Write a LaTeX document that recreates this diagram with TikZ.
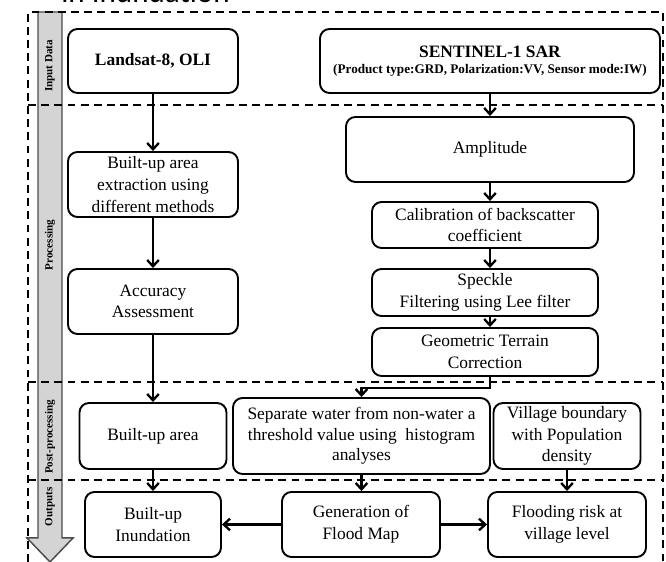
\documentclass[tikz,border=0pt]{standalone}
\usepackage{fontspec}
\setmainfont{Liberation Serif}
\newfontfamily\capfont{Carlito}
\usetikzlibrary{arrows.meta}

\tikzset{
  stage/.style={draw, line width=1.8pt, rounded corners=9pt, align=center,
    inner sep=0pt, font=\fontsize{16.5}{20.5}\selectfont},
  flow/.style={-{Straight Barb[length=6pt,width=11pt]}, line width=2.2pt},
  divider/.style={line width=2pt, dash pattern=on 7.5pt off 5pt},
  phase/.style={rotate=90, font=\bfseries\fontsize{10.5}{12}\selectfont},
}

\begin{document}
\begin{tikzpicture}

\useasboundingbox (0,0) rectangle (22.2,18.733);

\node [anchor=base, font=\capfont\fontsize{29.5}{30}\selectfont] (heading) at (4.85,18.655) {in Inundation};

\draw [line width=1.4pt, draw=black!70, fill=black!17] (1.267,18.333) -- (2.067,18.333) -- (2.067,0.8) -- (2.433,0.8) -- (1.667,0) -- (0.9,0.8) -- (1.267,0.8) -- cycle;

\draw [divider] (0.933,0) -- (0.933,18.333) -- (22.1,18.333) -- (22.1,0);
\draw [divider] (0.933,15.233) -- (22.1,15.233);
\draw [divider] (0.933,6.0) -- (22.1,6.0);
\draw [divider] (0.933,2.733) -- (22.1,2.733);

\node [phase] (inputlbl) at (1.667,16.533) {Input Data};
\node [phase] (proclbl) at (1.667,10.567) {Processing};
\node [phase] (postlbl) at (1.667,4.167) {Post-processing};
\node [phase] (outlbl) at (1.667,1.833) {Outputs};

\node [stage, font=\bfseries\fontsize{16.5}{20}\selectfont, minimum width=5.667cm, minimum height=2.133cm] (landsat) at (5.1,16.7) {Landsat-8, OLI};
\node [stage, font=\bfseries\fontsize{12.5}{15}\selectfont, minimum width=11.333cm, minimum height=2.133cm] (sentinel) at (16.333,16.7) {{\fontsize{16.5}{15}\selectfont SENTINEL-1 SAR}\\(Product type:GRD, Polarization:VV, Sensor mode:IW)};

\node [stage, minimum width=5.667cm, minimum height=2.167cm] (extract) at (5.1,12.583) {Built-up area\\extraction using\\different methods};
\node [stage, minimum width=5.667cm, minimum height=2.167cm] (accuracy) at (5.1,8.683) {Accuracy\\Assessment};

\node [stage, minimum width=9.6cm, minimum height=2.167cm] (amplitude) at (16.333,13.75) {Amplitude};
\node [stage, minimum width=7.533cm, minimum height=1.533cm] (calib) at (16.167,11.233) {Calibration of backscatter\\coefficient};
\node [stage, minimum width=7.533cm, minimum height=1.567cm] (speckle) at (16.167,8.983) {Speckle\\Filtering using Lee filter};
\node [stage, minimum width=7.533cm, minimum height=1.6cm] (geometric) at (16.167,7.0) {Geometric Terrain\\Correction};

\node [stage, minimum width=4.9cm, minimum height=2.2cm] (builtup) at (5.1,4.2) {Built-up area};
\node [stage, font=\fontsize{16.5}{19.5}\selectfont, minimum width=8.567cm, minimum height=2.533cm] (separate) at (12.05,4.2) {Separate water from non-water a\\threshold value using\ \ histogram\\analyses};
\node [stage, minimum width=4.9cm, minimum height=2.2cm] (village) at (18.9,4.2) {Village boundary\\with Population\\density};

\node [stage, minimum width=4.533cm, minimum height=2.167cm] (inundation) at (5.1,1.25) {Built-up\\Inundation};
\node [stage, minimum width=5.267cm, minimum height=2.167cm] (generation) at (12.033,1.25) {Generation of\\Flood Map};
\node [stage, minimum width=5.267cm, minimum height=2.167cm] (flooding) at (18.9,1.25) {Flooding risk at\\village level};

\draw [flow] (landsat) -- (extract);
\draw [flow] (extract) -- (accuracy);
\draw [flow] (accuracy) -- (builtup);
\draw [flow] (builtup) -- (inundation);

\draw [flow] (sentinel) -- (amplitude);
\draw [flow] (amplitude.south) -- (amplitude.south |- calib.north);
\draw [flow] (calib.south -| amplitude) -- (amplitude |- speckle.north);
\draw [flow] (speckle.south -| amplitude) -- (amplitude |- geometric.north);
\draw [flow] (geometric.south -| amplitude) -- ++(0,-0.367) -| (separate.north);

\draw [flow] (separate.south) -- (separate.south |- generation.north);
\draw [flow] (village) -- (flooding);
\draw [flow] (generation) -- (inundation);
\draw [flow] (generation) -- (flooding);

\end{tikzpicture}
\end{document}
